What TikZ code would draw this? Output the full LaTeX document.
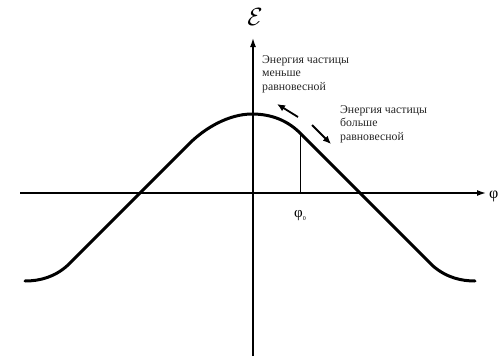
\documentclass[tikz,border=0pt]{standalone}
\usepackage{fontspec}
\setmainfont{Liberation Serif}
\usetikzlibrary{arrows.meta}
\begin{document}
\begin{tikzpicture}[x=1pt,y=-1pt,
  axis/.style={line width=1.4pt,-{Latex[length=9pt,width=6pt]}},
  small/.style={font=\fontsize{11.8}{13.5}\selectfont,align=left,inner sep=0pt,text=black!85},
  hint/.style={line width=1.8pt,-{Latex[length=8pt,width=7pt]}}]
\useasboundingbox (0,0) rectangle (504,357);
\coordinate (xs) at (20,193);
\coordinate (xe) at (486,193);
\coordinate (ys) at (253,356);
\coordinate (ye) at (253,38);
\draw[axis] (xs) -- (xe);
\draw[axis] (ys) -- (ye);
\node (eps) at (255,17) {\fontsize{24}{24}\selectfont$\mathcal{E}$};
\node[anchor=west,inner sep=0pt] (phi) at (489,196) {\fontsize{16}{16}\selectfont φ};
\draw[line width=3pt,line cap=round,line join=round]
  (25,281) .. controls (40,281) and (55,277) .. (68,265)
  -- (190,143)
  .. controls (204,129) and (228,114) .. (252,114)
  .. controls (272,114) and (288,121) .. (300,133)
  -- (433,266)
  .. controls (447,278) and (462,281) .. (475,281);
\coordinate (p0) at (300,193);
\coordinate (p1) at (300,133);
\draw[line width=0.8pt] (p0) -- (p1);
\node (phi0) at (300,216) {\fontsize{15}{15}\selectfont φ\raisebox{-0.4ex}{\fontsize{6}{6}\selectfont 0}};
\node[small,anchor=north west] (t1) at (262,55) {Энергия частицы\\меньше\\равновесной};
\node[small,anchor=north west] (t2) at (340,105) {Энергия частицы\\больше\\равновесной};
\coordinate (a1s) at (298,117);
\coordinate (a1e) at (277,104);
\coordinate (a2s) at (312,125);
\coordinate (a2e) at (331,144);
\draw[hint] (a1s) -- (a1e);
\draw[hint] (a2s) -- (a2e);
\end{tikzpicture}
\end{document}
